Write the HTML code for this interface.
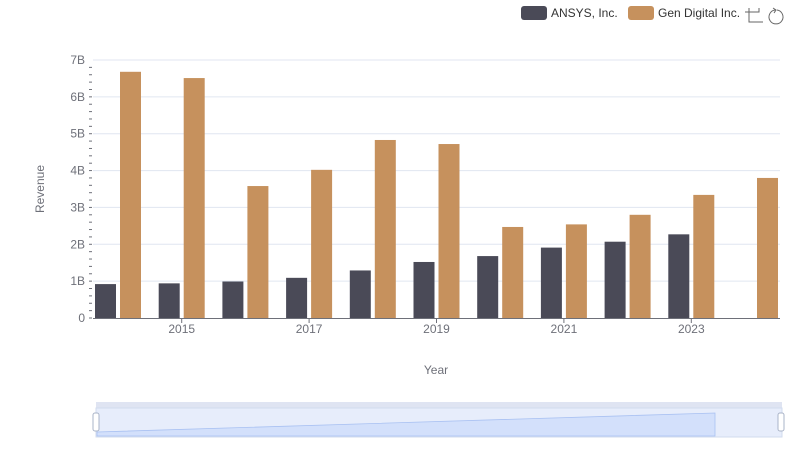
<!DOCTYPE html>
<html><head><meta charset="utf-8"><style>
body{margin:0;background:#fff;font-family:"Liberation Sans",sans-serif}
svg text{font-family:"Liberation Sans",sans-serif}
</style></head><body>
<svg id="c" width="800" height="461">
<g>
<g><rect x="521" y="6" width="26" height="14" rx="3" fill="#4a4a57"/><text x="551" y="17" font-size="12" fill="#333">ANSYS, Inc.</text></g>
<g><rect x="628" y="6" width="26" height="14" rx="3" fill="#c6915d"/><text x="658" y="17" font-size="12" fill="#333">Gen Digital Inc.</text></g>
<g><path d="M749 8v14h14M745 12h14v-4" stroke="#666" fill="none"/></g>
<g><path d="M777 10a7 7 0 1 1-2 0M773 8l3 2-2 3" stroke="#666" fill="none"/></g>
</g>
<g id="grid"></g><g id="bars"></g><g id="axes"></g>
<text x="44" y="189" font-size="12" fill="#6e7079" text-anchor="middle" transform="rotate(-90 44 189)">Revenue</text>
<text x="436" y="374" font-size="12" fill="#6e7079" text-anchor="middle">Year</text>
<g>
<rect x="96" y="402" width="686" height="6" fill="#dfe4f2"/>
<rect x="96" y="408" width="686" height="29" fill="#e7edfb" stroke="#d2dbee"/>
<path d="M97 432 L715 413 L715 436 L97 436Z" fill="#d3e0fb" stroke="#a9c1f2" stroke-width="0.8"/>
<rect x="93" y="413" width="6" height="18" rx="2" fill="#fff" stroke="#aab4c8"/>
<rect x="778" y="413" width="6" height="18" rx="2" fill="#fff" stroke="#aab4c8"/>
</g>
</svg>
<script>
const years=[2014,2015,2016,2017,2018,2019,2020,2021,2022,2023,2024];
const ansys=[0.92,0.94,0.99,1.09,1.29,1.52,1.68,1.91,2.07,2.27,null];
const gen=[6.68,6.51,3.58,4.02,4.83,4.72,2.47,2.54,2.80,3.34,3.80];
const yTicks=["0","1B","2B","3B","4B","5B","6B","7B"];
const xLabels=[2015,2017,2019,2021,2023];
const NS="http://www.w3.org/2000/svg";
const y=v=>318-v*(258/7);
const x=yr=>118+(yr-2014)*63.7;
function mk(t,a,p){const e=document.createElementNS(NS,t);for(const k in a)e.setAttribute(k,a[k]);p.appendChild(e);return e;}
const G=document.getElementById('grid'),B=document.getElementById('bars'),A=document.getElementById('axes');
yTicks.forEach((t,i)=>{
 if(i>0){const l=mk('line',{x1:93,x2:780,y1:y(i),y2:y(i),stroke:'#e0e6f1'},G);
 
 }
 const tx=mk('text',{x:85,y:y(i)+4,'font-size':12,fill:'#6e7079','text-anchor':'end'},A);tx.textContent=t;
 
 
 if(i<7)for(let j=0;j<5;j++){mk('line',{x1:89,x2:92,y1:y(i+j/5),y2:y(i+j/5),stroke:'#6e7079'},A);}
});
mk('line',{x1:93,x2:780,y1:318.5,y2:318.5,stroke:'#6e7079'},A);
xLabels.forEach(yr=>{
 mk('line',{x1:x(yr),x2:x(yr),y1:318,y2:323,stroke:'#6e7079'},A);
 const t=mk('text',{x:x(yr),y:333,'font-size':12,fill:'#6e7079','text-anchor':'middle'},A);t.textContent=yr;
 
 
});
years.forEach((yr,i)=>{
 if(ansys[i]!=null){const r=mk('rect',{x:x(yr)-23,y:y(ansys[i]),width:21,height:318-y(ansys[i]),fill:'#4a4a57'},B);
 
 }
 if(gen[i]!=null){const r=mk('rect',{x:x(yr)+2,y:y(gen[i]),width:21,height:318-y(gen[i]),fill:'#c6915d'},B);
 
 }
});
</script>
</body></html>
